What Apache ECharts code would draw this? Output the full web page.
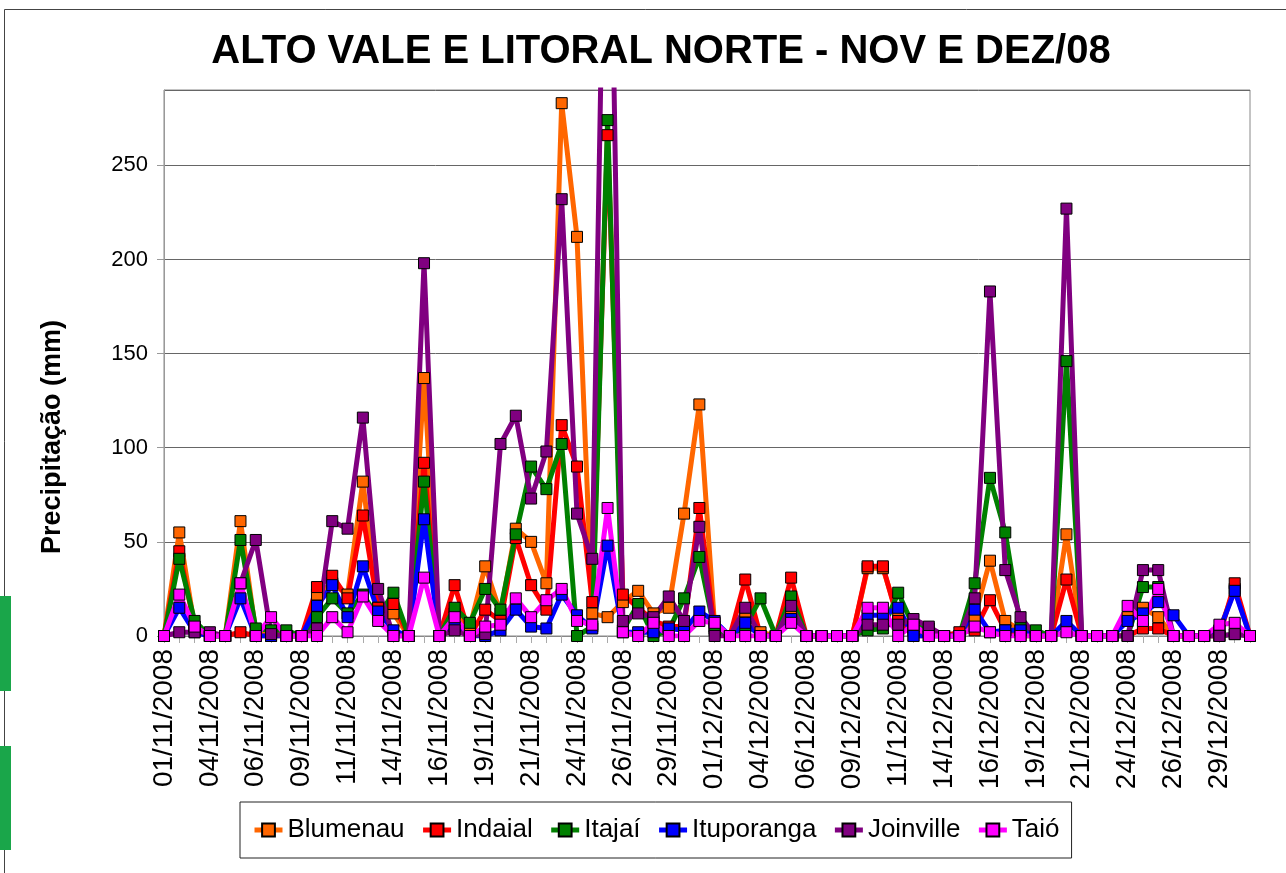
<!DOCTYPE html>
<html>
<head>
<meta charset="utf-8">
<script src="https://cdn.jsdelivr.net/npm/echarts@6/dist/echarts.min.js"></script>
<style>
  html, body { margin: 0; padding: 0; background: #fff; }
  #chart { width: 1286px; height: 873px; }
</style>
</head>
<body>
<div id="chart"></div>
<script>
// datas (um ponto por linha da planilha, 72 linhas)
const datas = [
  '01/11/2008','02/11/2008','03/11/2008','04/11/2008','05/11/2008','05/11/2008',
  '06/11/2008','07/11/2008','08/11/2008','09/11/2008','10/11/2008','10/11/2008',
  '11/11/2008','12/11/2008','13/11/2008','14/11/2008','15/11/2008','15/11/2008',
  '16/11/2008','17/11/2008','18/11/2008','19/11/2008','20/11/2008','20/11/2008',
  '21/11/2008','22/11/2008','23/11/2008','24/11/2008','25/11/2008','25/11/2008',
  '26/11/2008','27/11/2008','28/11/2008','29/11/2008','30/11/2008','30/11/2008',
  '01/12/2008','02/12/2008','03/12/2008','04/12/2008','05/12/2008','05/12/2008',
  '06/12/2008','07/12/2008','08/12/2008','09/12/2008','10/12/2008','10/12/2008',
  '11/12/2008','12/12/2008','13/12/2008','14/12/2008','15/12/2008','15/12/2008',
  '16/12/2008','17/12/2008','18/12/2008','19/12/2008','20/12/2008','20/12/2008',
  '21/12/2008','22/12/2008','23/12/2008','24/12/2008','25/12/2008','25/12/2008',
  '26/12/2008','27/12/2008','28/12/2008','29/12/2008','30/12/2008','31/12/2008'
];

const blumenau = [0,55,5,0,0,61, 2,2,0,0,22,28, 22,82,15,12,0,137, 0,12,5,37,12,57,
  50,28,283,212,12,10, 18,24,12,15,65,123, 5,0,13,2,0,12, 0,0,0,0,36,36,
  10,3,2,0,0,10, 40,8,3,0,0,54, 0,0,0,10,15,10, 0,0,0,3,25,0];
const indaial = [0,45,5,0,0,2, 0,0,0,0,26,32, 20,64,15,17,0,92, 0,27,0,14,8,52,
  27,14,112,90,18,266, 22,15,8,5,5,68, 4,0,30,0,0,31, 0,0,0,0,37,37,
  8,0,0,0,2,3, 19,3,0,0,0,30, 0,0,0,0,4,4, 0,0,0,0,28,0];
const itajai = [0,41,8,0,0,51, 4,3,3,0,10,20, 12,22,10,23,0,82, 0,15,7,25,14,54,
  90,78,102,0,5,274, 3,17,0,3,20,42, 3,0,5,20,0,21, 0,0,0,0,3,4,
  23,5,4,0,0,28, 84,55,5,3,0,146, 0,0,0,0,26,26, 0,0,0,0,1,0];
const ituporanga = [0,15,2,0,0,20, 0,0,0,0,16,27, 10,37,13,3,0,62, 0,5,0,0,3,14,
  5,4,22,11,4,48, 2,2,2,4,3,13, 8,0,7,0,0,9, 0,0,0,0,11,11,
  15,0,0,0,0,14, 2,3,3,0,0,8, 0,0,0,8,12,18, 11,0,0,3,24,0];
const joinville = [0,2,2,2,0,28, 51,1,0,0,4,61, 57,116,25,0,0,198, 0,3,0,1,102,117,
  73,98,232,65,41,500, 8,12,10,21,8,58, 0,0,15,0,0,16, 0,0,0,0,6,6,
  6,9,5,0,0,20, 183,35,10,0,0,227, 0,0,0,0,35,35, 0,0,0,0,1,0];
const taio = [0,22,5,0,0,28, 0,10,0,0,0,10, 2,21,8,0,0,31, 0,10,0,5,6,20,
  10,19,25,8,6,68, 2,0,7,0,0,8, 7,0,0,0,0,7, 0,0,0,0,15,15,
  0,6,0,0,0,5, 2,0,0,0,0,2, 0,0,0,16,8,25, 0,0,0,6,7,0];

const estacoes = ['Blumenau', 'Indaial', 'Itajaí', 'Ituporanga', 'Joinville', 'Taió'];
const valores = [blumenau, indaial, itajai, ituporanga, joinville, taio];
const cores = ['#FF6600', '#FF0000', '#008000', '#0000FF', '#800080', '#FF00FF'];

const fonte = '"Liberation Sans", Arial, sans-serif';
const myChart = echarts.init(document.getElementById('chart'));

const option = {
  backgroundColor: '#fff',
  animation: false,
  textStyle: { fontFamily: fonte, color: '#000' },
  title: {
    text: 'ALTO VALE E LITORAL NORTE - NOV E DEZ/08',
    left: 656,
    textAlign: 'center',
    top: 27,
    textStyle: { fontFamily: fonte, fontSize: 40, fontWeight: 'bold', color: '#000' }
  },
  // moldura e faixas verdes da lateral
  graphic: [
    { type: 'rect', shape: { x: 4.5, y: 9.5, width: 1300, height: 900 },
      style: { fill: 'none', stroke: '#444', lineWidth: 1 }, silent: true },
    { type: 'rect', shape: { x: 0, y: 596, width: 11, height: 95 },
      style: { fill: '#1aa64a' }, silent: true },
    { type: 'rect', shape: { x: 0, y: 746, width: 11, height: 104 },
      style: { fill: '#1aa64a' }, silent: true }
  ],
  legend: {
    data: estacoes,
    left: 240,
    top: 802,
    orient: 'horizontal',
    borderColor: '#222',
    borderWidth: 1,
    padding: [15, 12, 15, 12],
    itemGap: 16,
    itemWidth: 28,
    itemHeight: 16,
    lineStyle: { width: 5 },
    textStyle: { fontFamily: fonte, fontSize: 26, color: '#000' }
  },
  grid: {
    left: 164,
    right: 36,
    top: 90,
    bottom: 237,
    show: true,
    borderColor: '#888',
    borderWidth: 1,
    backgroundColor: '#fff'
  },
  xAxis: {
    type: 'category',
    data: datas,
    boundaryGap: false,
    axisLine: { lineStyle: { color: '#888' } },
    axisTick: { show: true, interval: 0, length: 7, lineStyle: { color: '#aaa' } },
    axisLabel: {
      interval: 2,
      rotate: 90,
      margin: 13,
      fontSize: 28,
      color: '#000',
      fontFamily: fonte
    },
    splitLine: { show: false }
  },
  yAxis: {
    type: 'value',
    min: 0,
    max: 290,
    interval: 50,
    name: 'Precipitação (mm)',
    nameLocation: 'middle',
    nameGap: 98,
    nameTextStyle: {
      fontFamily: fonte,
      fontSize: 27,
      fontWeight: 'bold',
      color: '#000',
      padding: [0, 148, 0, 0]
    },
    axisLine: { show: true, lineStyle: { color: '#999' } },
    axisTick: { show: true, length: 7, lineStyle: { color: '#999' } },
    axisLabel: { fontSize: 22, color: '#000', margin: 16, showMaxLabel: false, fontFamily: fonte },
    splitLine: { lineStyle: { color: '#666', width: 1 } }
  },
  series: estacoes.map((nome, k) => ({
    name: nome,
    type: 'line',
    data: valores[k],
    symbol: 'rect',
    symbolSize: 11,
    showAllSymbol: true,
    clip: true,
    lineStyle: { color: cores[k], width: 5 },
    itemStyle: { color: cores[k], borderColor: '#000', borderWidth: 1 }
  }))
};
myChart.setOption(option);
</script>
</body>
</html>
